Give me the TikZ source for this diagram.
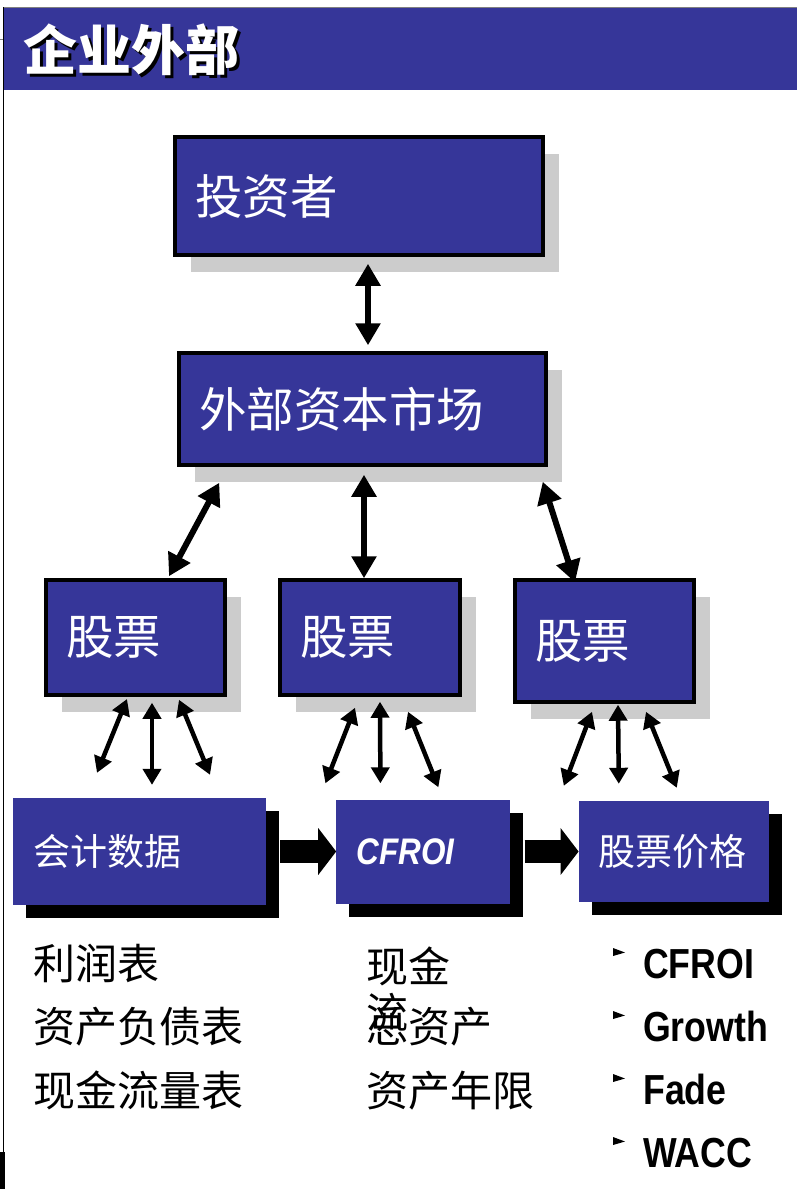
\documentclass[tikz,border=0pt]{standalone}
\usepackage{fontspec}
\usepackage{graphicx}
\usepackage{tikz}
\usetikzlibrary{shapes}
\usetikzlibrary{arrows.meta}
\usetikzlibrary{positioning}
\usetikzlibrary{shadows}
\usetikzlibrary{calc}
\newfontfamily\cjk{Noto Sans CJK SC}
\newfontfamily\narrowsans[FakeStretch=0.85]{Liberation Sans}
\definecolor{boxblue}{RGB}{54,54,153}
\definecolor{shadowgray}{RGB}{204,204,204}

\begin{document}
\begin{tikzpicture}[x=1pt,y=-1pt]
\tikzstyle{panel}=[rectangle,draw=black,line width=3.5pt,fill=boxblue,text=white,
inner xsep=20pt,inner ysep=0pt,align=left,font=\cjk\fontsize{47.5}{50}\selectfont,
drop shadow={shadow xshift=16pt,shadow yshift=-17pt,fill=shadowgray,opacity=1}]
\tikzstyle{stage}=[rectangle,fill=boxblue,text=white,inner xsep=20pt,inner ysep=0pt,
align=left,font=\cjk\fontsize{37}{40}\selectfont,
drop shadow={shadow xshift=13pt,shadow yshift=-13pt,fill=black,opacity=1}]
\tikzstyle{link}=[line width=6pt,arrows={Triangle[width=24pt,length=22pt]-Triangle[width=24pt,length=22pt]}]
\tikzstyle{feed}=[line width=4.5pt,arrows={Triangle[width=18pt,length=16pt]-Triangle[width=18pt,length=16pt]}]
\tikzstyle{flow}=[line width=23pt,arrows={-Triangle[width=46pt,length=18pt]}]
\tikzstyle{note}=[anchor=base west,inner sep=0pt,font=\cjk\fontsize{42}{50}\selectfont]
\useasboundingbox (0,0) rectangle (797,1189);
% header bar
\fill[boxblue] (4,7) rectangle (797,90);
\draw[gray,line width=1pt] (4,7) -- (797,7);
\draw[black,line width=1.3pt] (3.4,7) -- (3.4,1189);
\draw[gray,line width=1pt] (0,39) -- (3.4,39);
\fill[black] (0,1152) rectangle (5,1189);
\node[anchor=west,inner sep=0pt,text=black,font=\cjk\bfseries\fontsize{54}{60}\selectfont] (title shadow) at (26,52.5) {企业外部};
\node[anchor=west,inner sep=0pt,text=white,font=\cjk\bfseries\fontsize{54}{60}\selectfont] (title) at (23.5,50) {企业外部};
% boxes
\node[panel,text width=328pt,minimum height=118pt] (investors) at (359,196) {投资者};
\node[panel,text width=327pt,minimum height=112pt] (market) at (362.5,409) {外部资本市场};
\node[panel,text width=139pt,minimum height=115pt] (stock left) at (135.5,637.5) {股票};
\node[panel,text width=140pt,minimum height=115pt] (stock mid) at (370,637.5) {股票};
\node[panel,text width=139pt,minimum height=122pt] (stock right) at (604.5,641) {股票};
\node[stage,text width=213pt,minimum height=107pt] (accounts) at (139.5,851.5) {会计数据};
\node[stage,text width=134pt,minimum height=104pt,font=\narrowsans\bfseries\itshape\fontsize{37}{40}\selectfont,right=70pt of accounts] (cfroi) {CFROI};
\node[stage,text width=150pt,minimum height=101pt,right=68pt of cfroi] (price) {股票价格};
% links
\draw[link] ($(investors.south)+(9,7)$) -- ($(market.north)+(5.5,-6)$);
\draw[link] ($(market.south west)+(42,16)$) -- ($(stock left.north)+(33.5,-2)$);
\draw[link] ($(market.south)+(1.5,8)$) -- ($(stock mid.north)+(-6,0)$);
\draw[link] ($(market.south east)+(-5,15)$) -- ($(stock right.north)+(-29.5,4)$);
\foreach \ax/\ay/\bx/\by in {-8.5/2.25/-42.5/-25, 16.5/6/12.5/-13, 43.5/3/70.5/-23}
  \draw[feed] ($(stock left.south)+(\ax,\ay)$) -- ($(accounts.north)+(\bx,\by)$);
\foreach \ax/\ay/\bx/\by in {-15/11/-98/-16, 10/5/-43/-16, 38/15/15/-12}
  \draw[feed] ($(stock mid.south)+(\ax,\ay)$) -- ($(cfroi.north)+(\bx,\by)$);
\foreach \ax/\ay/\bx/\by in {-12.5/8/-110/-15, 13.5/1/-55/-17, 41.5/8/3/-13}
  \draw[feed] ($(stock right.south)+(\ax,\ay)$) -- ($(price.north)+(\bx,\by)$);
\draw[flow] ($(accounts.east)+(14,0)$) -- (cfroi.west);
\draw[flow] ($(cfroi.east)+(14,0)$) -- (price.west);
% inputs
\node[note] (income) at (33,979) {利润表};
\node[note] (balance) at (33,1042) {资产负债表};
\node[note] (cashflow) at (33,1106) {现金流量表};
\node[note] (cash) at (366,982) {现金};
\node[note] (total assets) at (366,1042) {总资产};
\node[note] (overflow) at (366,1028) {流};
\node[note] (asset life) at (366,1106) {资产年限};
\foreach \txt [count=\i] in {CFROI,Growth,Fade,WACC} {
  \pgfmathsetmacro\yb{915+63*\i}
  \fill (613,{\yb-30}) -- (625,{\yb-25.5}) -- (613,{\yb-22}) -- cycle;
  \node[anchor=base west,inner sep=0pt,font=\narrowsans\bfseries\fontsize{42}{50}\selectfont] (factor \i) at (643,\yb) {\txt};
}
\end{tikzpicture}
\end{document}
